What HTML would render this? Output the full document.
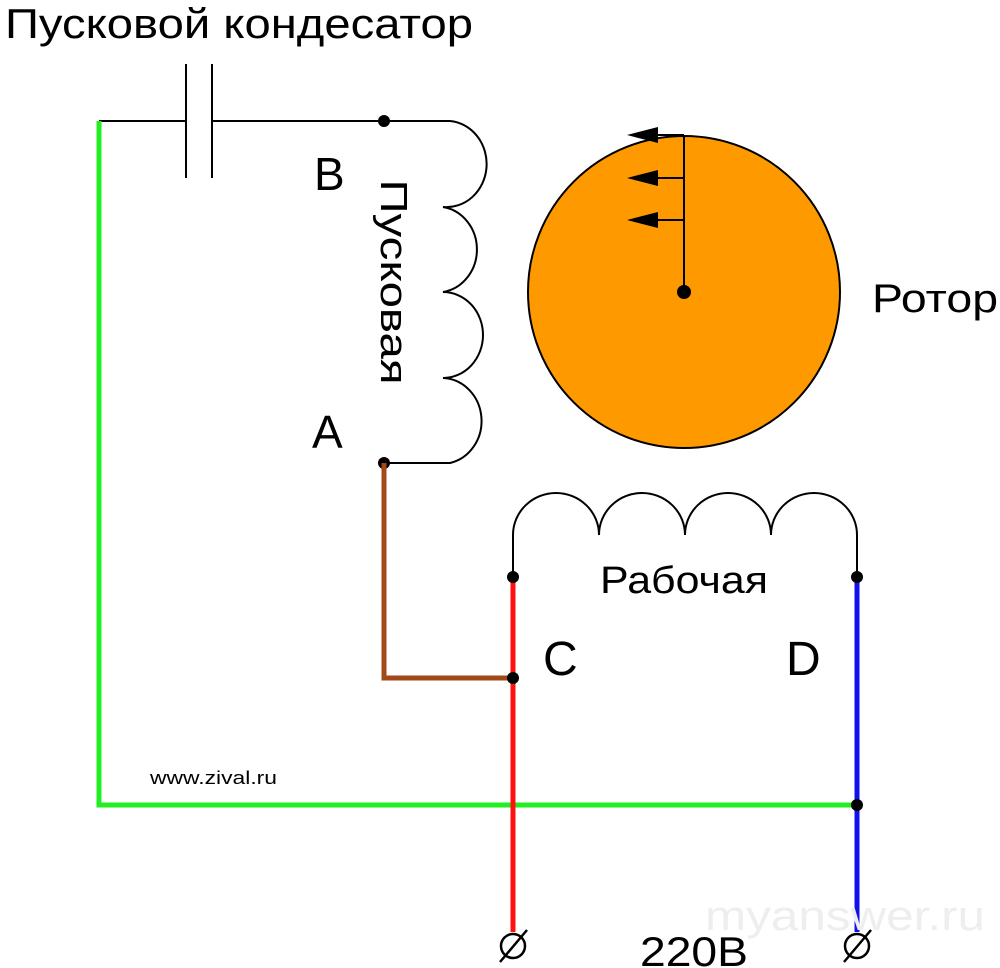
<!DOCTYPE html>
<html><head><meta charset="utf-8"><style>body{margin:0;background:#fff}svg{display:block}</style></head><body>
<svg width="1000" height="968" viewBox="0 0 1000 968" xmlns="http://www.w3.org/2000/svg" font-family="Liberation Sans, sans-serif">
<rect width="1000" height="968" fill="#fff"/>
<text x="5" y="38" font-size="42" textLength="468" lengthAdjust="spacingAndGlyphs">Пусковой кондесатор</text>
<line x1="99" y1="121" x2="186" y2="121" stroke="#000" stroke-width="2"/>
<line x1="212" y1="121" x2="450" y2="121" stroke="#000" stroke-width="2"/>
<line x1="186" y1="64" x2="186" y2="178" stroke="#000" stroke-width="2"/>
<line x1="212" y1="64" x2="212" y2="178" stroke="#000" stroke-width="2"/>
<path d="M450 121 A40 43 0 0 1 443 207 A40 43 0 0 1 443 292 A40 43 0 0 1 443 378 A40 43 0 0 1 450 463 L384 463" fill="none" stroke="#000" stroke-width="2"/>
<circle cx="384" cy="121" r="6"/>
<circle cx="384" cy="463" r="6"/>
<text x="314" y="190" font-size="46">B</text>
<text x="312" y="448" font-size="46">A</text>
<text transform="translate(381,282) rotate(90)" x="0" y="0" font-size="38" text-anchor="middle" textLength="205" lengthAdjust="spacingAndGlyphs">Пусковая</text>
<circle cx="684" cy="292" r="156" fill="#ff9900" stroke="#000" stroke-width="2"/>
<line x1="684" y1="292" x2="684" y2="135" stroke="#000" stroke-width="2"/>
<g stroke="#000" stroke-width="2">
<line x1="684" y1="135" x2="655" y2="135"/><line x1="684" y1="178" x2="655" y2="178"/><line x1="684" y1="220" x2="655" y2="220"/></g>
<polygon points="627,135 658,127 658,143"/>
<polygon points="627,178 658,170 658,186"/>
<polygon points="627,220 658,212 658,228"/>
<circle cx="684" cy="292" r="7"/>
<text x="872" y="312" font-size="40" textLength="126" lengthAdjust="spacingAndGlyphs">Ротор</text>
<path d="M513 577 L513 535 A43 42 0 0 1 599 535 A43 42 0 0 1 685 535 A43 42 0 0 1 771 535 A43 42 0 0 1 857 535 L857 577" fill="none" stroke="#000" stroke-width="2"/>
<text x="600" y="593" font-size="38" textLength="168" lengthAdjust="spacingAndGlyphs">Рабочая</text>
<text x="543" y="675" font-size="48">C</text>
<text x="786" y="675" font-size="48">D</text>
<polyline points="99,121 99,805 857,805" fill="none" stroke="#22ee22" stroke-width="5"/>
<polyline points="384,463 384,678 513,678" fill="none" stroke="#a04a18" stroke-width="5"/>
<line x1="513" y1="577" x2="513" y2="932" stroke="#ff1111" stroke-width="5"/>
<line x1="857" y1="577" x2="857" y2="932" stroke="#1111ee" stroke-width="5"/>
<circle cx="513" cy="577" r="6"/><circle cx="857" cy="577" r="6"/>
<circle cx="513" cy="678" r="6"/><circle cx="857" cy="805" r="6"/>
<text x="150" y="784" font-size="18" textLength="127" lengthAdjust="spacingAndGlyphs">www.zival.ru</text>
<g fill="none" stroke="#000" stroke-width="2.5">
<circle cx="513" cy="946" r="12"/><line x1="500" y1="962" x2="527" y2="930"/>
<circle cx="857" cy="946" r="12"/><line x1="844" y1="962" x2="871" y2="930"/>
</g>
<text x="705" y="930" font-size="42" fill="#eeeeee" textLength="280" lengthAdjust="spacingAndGlyphs">myanswer.ru</text>
<text x="640" y="966" font-size="42" textLength="108" lengthAdjust="spacingAndGlyphs">220В</text>
</svg>
</body></html>
